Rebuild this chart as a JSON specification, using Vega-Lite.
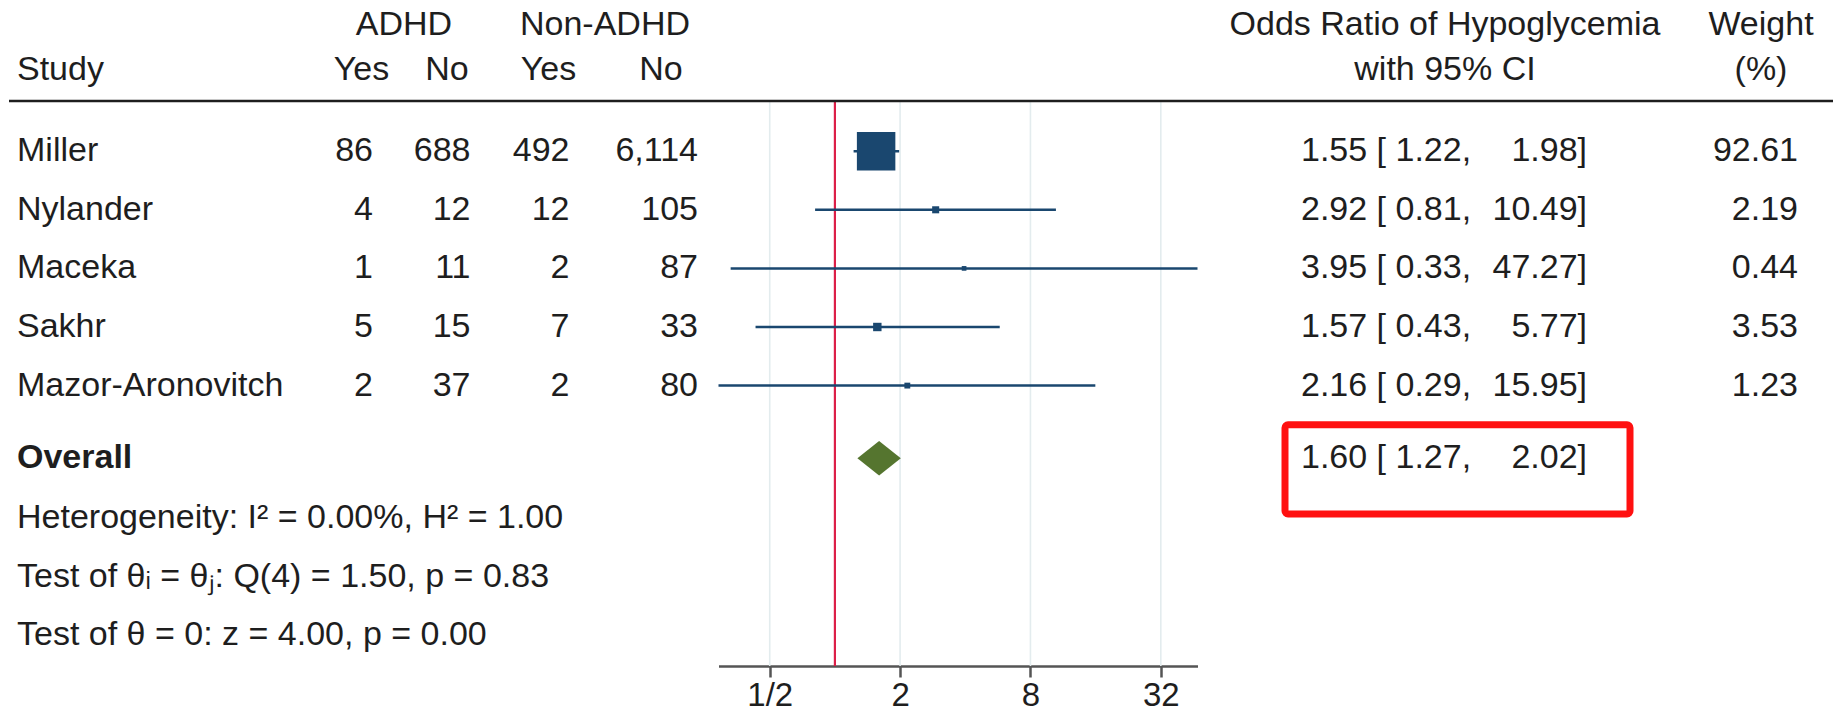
{
  "$schema": "https://vega.github.io/schema/vega-lite/v6.json",
  "width": 1837,
  "height": 666,
  "autosize": "none",
  "padding": {"left": 0, "top": 0, "right": 0, "bottom": 48},
  "background": "#ffffff",
  "config": {
    "view": {"stroke": null},
    "text": {"font": "Liberation Sans", "fontSize": 34, "color": "#1e1e1e", "baseline": "middle"},
    "axisX": {
      "title": null, "grid": false,
      "domainColor": "#555555", "domainWidth": 2.5,
      "tickColor": "#555555", "tickWidth": 2.5, "tickSize": 11,
      "labelFont": "Liberation Sans", "labelFontSize": 33, "labelColor": "#1e1e1e",
      "labelPadding": 2, "labelFlush": false, "labelOverlap": false
    }
  },
  "datasets": {
    "studies": [
      {"row": 1, "kind": "study", "study": "Miller", "ay": 86, "an": 688, "ny": 492, "nn": 6114, "est": 1.55, "lo": 1.22, "hi": 1.98, "w": 92.61},
      {"row": 2, "kind": "study", "study": "Nylander", "ay": 4, "an": 12, "ny": 12, "nn": 105, "est": 2.92, "lo": 0.81, "hi": 10.49, "w": 2.19},
      {"row": 3, "kind": "study", "study": "Maceka", "ay": 1, "an": 11, "ny": 2, "nn": 87, "est": 3.95, "lo": 0.33, "hi": 47.27, "w": 0.44},
      {"row": 4, "kind": "study", "study": "Sakhr", "ay": 5, "an": 15, "ny": 7, "nn": 33, "est": 1.57, "lo": 0.43, "hi": 5.77, "w": 3.53},
      {"row": 5, "kind": "study", "study": "Mazor-Aronovitch", "ay": 2, "an": 37, "ny": 2, "nn": 80, "est": 2.16, "lo": 0.29, "hi": 15.95, "w": 1.23},
      {"row": 6.24, "kind": "overall", "study": "Overall", "est": 1.60, "lo": 1.27, "hi": 2.02}
    ],
    "notes": [
      {"row": 7.26, "text": "Heterogeneity: I² = 0.00%, H² = 1.00"},
      {"row": 8.26, "text": "Test of θᵢ = θⱼ: Q(4) = 1.50, p = 0.83"},
      {"row": 9.26, "text": "Test of θ = 0: z = 4.00, p = 0.00"}
    ],
    "grid": [{"t": 0.5}, {"t": 2}, {"t": 8}, {"t": 32}],
    "ref": [{"t": 1}]
  },
  "resolve": {"scale": {"x": "independent"}, "axis": {"x": "independent"}},
  "layer": [
    {
      "layer": [
        {
          "data": {"name": "grid"},
          "mark": {"type": "rule", "color": "#e3ecee", "strokeWidth": 1.6},
          "encoding": {
            "x": {"field": "t", "type": "quantitative", "scale": {"type": "log", "base": 2, "domain": [0.29, 47.27], "range": [718.5, 1197.5], "nice": false},
              "axis": {"values": [0.5, 2, 8, 32], "labelExpr": "datum.value < 1 ? '1/' + round(1 / datum.value) : '' + round(datum.value)"}},
            "y": {"datum": 0.16, "type": "quantitative", "scale": {"type": "linear", "domain": [-1.58, 9.785], "reverse": true, "nice": false, "zero": false}, "axis": null},
            "y2": {"datum": 9.785}
          }
        },
        {
          "data": {"name": "ref"},
          "mark": {"type": "rule", "color": "#dc1f48", "strokeWidth": 2.2},
          "encoding": {
            "x": {"field": "t", "type": "quantitative", "scale": {"type": "log", "base": 2, "domain": [0.29, 47.27], "range": [718.5, 1197.5], "nice": false},
              "axis": {"values": [0.5, 2, 8, 32], "labelExpr": "datum.value < 1 ? '1/' + round(1 / datum.value) : '' + round(datum.value)"}},
            "y": {"datum": 0.16, "type": "quantitative", "scale": {"type": "linear", "domain": [-1.58, 9.785], "reverse": true, "nice": false, "zero": false}, "axis": null},
            "y2": {"datum": 9.785}
          }
        },
        {
          "data": {"name": "studies"},
          "transform": [{"filter": "datum.kind == 'study'"}],
          "mark": {"type": "rule", "color": "#1a476f", "strokeWidth": 2.5},
          "encoding": {
            "x": {"field": "lo", "type": "quantitative", "scale": {"type": "log", "base": 2, "domain": [0.29, 47.27], "range": [718.5, 1197.5], "nice": false},
              "axis": {"values": [0.5, 2, 8, 32], "labelExpr": "datum.value < 1 ? '1/' + round(1 / datum.value) : '' + round(datum.value)"}},
            "x2": {"field": "hi"},
            "y": {"field": "row", "type": "quantitative", "scale": {"type": "linear", "domain": [-1.58, 9.785], "reverse": true, "nice": false, "zero": false}, "axis": null}
          }
        },
        {
          "data": {"name": "studies"},
          "transform": [{"filter": "datum.kind == 'study'"}],
          "mark": {"type": "point", "shape": "square", "filled": true, "color": "#1a476f", "opacity": 1},
          "encoding": {
            "x": {"field": "est", "type": "quantitative", "scale": {"type": "log", "base": 2, "domain": [0.29, 47.27], "range": [718.5, 1197.5], "nice": false},
              "axis": {"values": [0.5, 2, 8, 32], "labelExpr": "datum.value < 1 ? '1/' + round(1 / datum.value) : '' + round(datum.value)"}},
            "y": {"field": "row", "type": "quantitative", "scale": {"type": "linear", "domain": [-1.58, 9.785], "reverse": true, "nice": false, "zero": false}, "axis": null},
            "size": {"field": "w", "type": "quantitative", "scale": {"domain": [0, 92.61], "range": [15, 1480]}, "legend": null}
          }
        },
        {
          "data": {"name": "studies"},
          "transform": [{"filter": "datum.kind == 'overall'"}],
          "mark": {"type": "point", "shape": "M -1 0 L 0 -0.79 L 1 0 L 0 0.79 Z", "filled": true, "color": "#55752f", "size": 1884, "opacity": 1},
          "encoding": {
            "x": {"field": "est", "type": "quantitative", "scale": {"type": "log", "base": 2, "domain": [0.29, 47.27], "range": [718.5, 1197.5], "nice": false},
              "axis": {"values": [0.5, 2, 8, 32], "labelExpr": "datum.value < 1 ? '1/' + round(1 / datum.value) : '' + round(datum.value)"}},
            "y": {"field": "row", "type": "quantitative", "scale": {"type": "linear", "domain": [-1.58, 9.785], "reverse": true, "nice": false, "zero": false}, "axis": null}
          }
        }
      ]
    },
    {
      "layer": [
        {
          "data": {"values": [{}]},
          "mark": {"type": "rule", "color": "#1e1e1e", "strokeWidth": 2.5},
          "encoding": {
            "x": {"datum": 0, "type": "quantitative", "scale": {"type": "linear", "domain": [0,1,2,3,4,5,6,7,8,9,10,11,12,13,14,15,16,17,18,19], "range": [9,17,361.5,373,404,447,470.5,548.5,569.5,605,661,698,1285,1301,1445,1587,1630,1761,1798,1833], "nice": false, "zero": false}, "axis": null},
            "x2": {"datum": 19},
            "y": {"datum": 0.143, "type": "quantitative", "scale": {"type": "linear", "domain": [-1.58, 9.785], "reverse": true, "nice": false, "zero": false}, "axis": null}
          }
        },
        {
          "data": {"values": [{}]},
          "mark": {"type": "rect", "filled": false, "color": "#ff1010", "strokeWidth": 7, "cornerRadius": 3},
          "encoding": {
            "x": {"datum": 12, "type": "quantitative", "scale": {"type": "linear", "domain": [0,1,2,3,4,5,6,7,8,9,10,11,12,13,14,15,16,17,18,19], "range": [9,17,361.5,373,404,447,470.5,548.5,569.5,605,661,698,1285,1301,1445,1587,1630,1761,1798,1833], "nice": false, "zero": false}, "axis": null},
            "x2": {"datum": 16},
            "y": {"datum": 5.67, "type": "quantitative", "scale": {"type": "linear", "domain": [-1.58, 9.785], "reverse": true, "nice": false, "zero": false}, "axis": null},
            "y2": {"datum": 7.19}
          }
        },
        {
          "data": {"name": "studies"},
          "transform": [{"filter": "datum.kind == 'study'"}],
          "mark": {"type": "text", "align": "left"},
          "encoding": {
            "x": {"datum": 1, "type": "quantitative", "scale": {"type": "linear", "domain": [0,1,2,3,4,5,6,7,8,9,10,11,12,13,14,15,16,17,18,19], "range": [9,17,361.5,373,404,447,470.5,548.5,569.5,605,661,698,1285,1301,1445,1587,1630,1761,1798,1833], "nice": false, "zero": false}, "axis": null},
            "y": {"field": "row", "type": "quantitative", "scale": {"type": "linear", "domain": [-1.58, 9.785], "reverse": true, "nice": false, "zero": false}, "axis": null},
            "text": {"field": "study"}
          }
        },
        {
          "data": {"name": "studies"},
          "transform": [{"filter": "datum.kind == 'overall'"}],
          "mark": {"type": "text", "align": "left", "fontWeight": "bold"},
          "encoding": {
            "x": {"datum": 1, "type": "quantitative", "scale": {"type": "linear", "domain": [0,1,2,3,4,5,6,7,8,9,10,11,12,13,14,15,16,17,18,19], "range": [9,17,361.5,373,404,447,470.5,548.5,569.5,605,661,698,1285,1301,1445,1587,1630,1761,1798,1833], "nice": false, "zero": false}, "axis": null},
            "y": {"field": "row", "type": "quantitative", "scale": {"type": "linear", "domain": [-1.58, 9.785], "reverse": true, "nice": false, "zero": false}, "axis": null},
            "text": {"field": "study"}
          }
        },
        {
          "data": {"name": "notes"},
          "mark": {"type": "text", "align": "left"},
          "encoding": {
            "x": {"datum": 1, "type": "quantitative", "scale": {"type": "linear", "domain": [0,1,2,3,4,5,6,7,8,9,10,11,12,13,14,15,16,17,18,19], "range": [9,17,361.5,373,404,447,470.5,548.5,569.5,605,661,698,1285,1301,1445,1587,1630,1761,1798,1833], "nice": false, "zero": false}, "axis": null},
            "y": {"field": "row", "type": "quantitative", "scale": {"type": "linear", "domain": [-1.58, 9.785], "reverse": true, "nice": false, "zero": false}, "axis": null},
            "text": {"field": "text"}
          }
        },
        {
          "data": {"name": "studies"},
          "transform": [{"filter": "datum.kind == 'study'"}],
          "mark": {"type": "text", "align": "right"},
          "encoding": {
            "x": {"datum": 3, "type": "quantitative", "scale": {"type": "linear", "domain": [0,1,2,3,4,5,6,7,8,9,10,11,12,13,14,15,16,17,18,19], "range": [9,17,361.5,373,404,447,470.5,548.5,569.5,605,661,698,1285,1301,1445,1587,1630,1761,1798,1833], "nice": false, "zero": false}, "axis": null},
            "y": {"field": "row", "type": "quantitative", "scale": {"type": "linear", "domain": [-1.58, 9.785], "reverse": true, "nice": false, "zero": false}, "axis": null},
            "text": {"field": "ay", "type": "quantitative", "format": ","}
          }
        },
        {
          "data": {"name": "studies"},
          "transform": [{"filter": "datum.kind == 'study'"}],
          "mark": {"type": "text", "align": "right"},
          "encoding": {
            "x": {"datum": 6, "type": "quantitative", "scale": {"type": "linear", "domain": [0,1,2,3,4,5,6,7,8,9,10,11,12,13,14,15,16,17,18,19], "range": [9,17,361.5,373,404,447,470.5,548.5,569.5,605,661,698,1285,1301,1445,1587,1630,1761,1798,1833], "nice": false, "zero": false}, "axis": null},
            "y": {"field": "row", "type": "quantitative", "scale": {"type": "linear", "domain": [-1.58, 9.785], "reverse": true, "nice": false, "zero": false}, "axis": null},
            "text": {"field": "an", "type": "quantitative", "format": ","}
          }
        },
        {
          "data": {"name": "studies"},
          "transform": [{"filter": "datum.kind == 'study'"}],
          "mark": {"type": "text", "align": "right"},
          "encoding": {
            "x": {"datum": 8, "type": "quantitative", "scale": {"type": "linear", "domain": [0,1,2,3,4,5,6,7,8,9,10,11,12,13,14,15,16,17,18,19], "range": [9,17,361.5,373,404,447,470.5,548.5,569.5,605,661,698,1285,1301,1445,1587,1630,1761,1798,1833], "nice": false, "zero": false}, "axis": null},
            "y": {"field": "row", "type": "quantitative", "scale": {"type": "linear", "domain": [-1.58, 9.785], "reverse": true, "nice": false, "zero": false}, "axis": null},
            "text": {"field": "ny", "type": "quantitative", "format": ","}
          }
        },
        {
          "data": {"name": "studies"},
          "transform": [{"filter": "datum.kind == 'study'"}],
          "mark": {"type": "text", "align": "right"},
          "encoding": {
            "x": {"datum": 11, "type": "quantitative", "scale": {"type": "linear", "domain": [0,1,2,3,4,5,6,7,8,9,10,11,12,13,14,15,16,17,18,19], "range": [9,17,361.5,373,404,447,470.5,548.5,569.5,605,661,698,1285,1301,1445,1587,1630,1761,1798,1833], "nice": false, "zero": false}, "axis": null},
            "y": {"field": "row", "type": "quantitative", "scale": {"type": "linear", "domain": [-1.58, 9.785], "reverse": true, "nice": false, "zero": false}, "axis": null},
            "text": {"field": "nn", "type": "quantitative", "format": ","}
          }
        },
        {
          "data": {"name": "studies"},
          "transform": [{"calculate": "format(datum.est, '.2f') + ' [ ' + format(datum.lo, '.2f') + ','", "as": "ci_a"}],
          "mark": {"type": "text", "align": "left"},
          "encoding": {
            "x": {"datum": 13, "type": "quantitative", "scale": {"type": "linear", "domain": [0,1,2,3,4,5,6,7,8,9,10,11,12,13,14,15,16,17,18,19], "range": [9,17,361.5,373,404,447,470.5,548.5,569.5,605,661,698,1285,1301,1445,1587,1630,1761,1798,1833], "nice": false, "zero": false}, "axis": null},
            "y": {"field": "row", "type": "quantitative", "scale": {"type": "linear", "domain": [-1.58, 9.785], "reverse": true, "nice": false, "zero": false}, "axis": null},
            "text": {"field": "ci_a"}
          }
        },
        {
          "data": {"name": "studies"},
          "transform": [{"calculate": "format(datum.hi, '.2f') + ']'", "as": "ci_b"}],
          "mark": {"type": "text", "align": "right"},
          "encoding": {
            "x": {"datum": 15, "type": "quantitative", "scale": {"type": "linear", "domain": [0,1,2,3,4,5,6,7,8,9,10,11,12,13,14,15,16,17,18,19], "range": [9,17,361.5,373,404,447,470.5,548.5,569.5,605,661,698,1285,1301,1445,1587,1630,1761,1798,1833], "nice": false, "zero": false}, "axis": null},
            "y": {"field": "row", "type": "quantitative", "scale": {"type": "linear", "domain": [-1.58, 9.785], "reverse": true, "nice": false, "zero": false}, "axis": null},
            "text": {"field": "ci_b"}
          }
        },
        {
          "data": {"name": "studies"},
          "transform": [{"filter": "datum.kind == 'study'"}],
          "mark": {"type": "text", "align": "right"},
          "encoding": {
            "x": {"datum": 18, "type": "quantitative", "scale": {"type": "linear", "domain": [0,1,2,3,4,5,6,7,8,9,10,11,12,13,14,15,16,17,18,19], "range": [9,17,361.5,373,404,447,470.5,548.5,569.5,605,661,698,1285,1301,1445,1587,1630,1761,1798,1833], "nice": false, "zero": false}, "axis": null},
            "y": {"field": "row", "type": "quantitative", "scale": {"type": "linear", "domain": [-1.58, 9.785], "reverse": true, "nice": false, "zero": false}, "axis": null},
            "text": {"field": "w", "type": "quantitative", "format": ".2f"}
          }
        },
        {
          "data": {"values": [{}]},
          "mark": {"type": "text", "align": "left"},
          "encoding": {
            "x": {"datum": 1, "type": "quantitative", "scale": {"type": "linear", "domain": [0,1,2,3,4,5,6,7,8,9,10,11,12,13,14,15,16,17,18,19], "range": [9,17,361.5,373,404,447,470.5,548.5,569.5,605,661,698,1285,1301,1445,1587,1630,1761,1798,1833], "nice": false, "zero": false}, "axis": null},
            "y": {"datum": -0.377, "type": "quantitative", "scale": {"type": "linear", "domain": [-1.58, 9.785], "reverse": true, "nice": false, "zero": false}, "axis": null},
            "text": {"value": "Study"}
          }
        },
        {
          "data": {"values": [{}]},
          "mark": {"type": "text", "align": "center"},
          "encoding": {
            "x": {"datum": 4, "type": "quantitative", "scale": {"type": "linear", "domain": [0,1,2,3,4,5,6,7,8,9,10,11,12,13,14,15,16,17,18,19], "range": [9,17,361.5,373,404,447,470.5,548.5,569.5,605,661,698,1285,1301,1445,1587,1630,1761,1798,1833], "nice": false, "zero": false}, "axis": null},
            "y": {"datum": -1.16, "type": "quantitative", "scale": {"type": "linear", "domain": [-1.58, 9.785], "reverse": true, "nice": false, "zero": false}, "axis": null},
            "text": {"value": "ADHD"}
          }
        },
        {
          "data": {"values": [{}]},
          "mark": {"type": "text", "align": "center"},
          "encoding": {
            "x": {"datum": 9, "type": "quantitative", "scale": {"type": "linear", "domain": [0,1,2,3,4,5,6,7,8,9,10,11,12,13,14,15,16,17,18,19], "range": [9,17,361.5,373,404,447,470.5,548.5,569.5,605,661,698,1285,1301,1445,1587,1630,1761,1798,1833], "nice": false, "zero": false}, "axis": null},
            "y": {"datum": -1.16, "type": "quantitative", "scale": {"type": "linear", "domain": [-1.58, 9.785], "reverse": true, "nice": false, "zero": false}, "axis": null},
            "text": {"value": "Non-ADHD"}
          }
        },
        {
          "data": {"values": [{}]},
          "mark": {"type": "text", "align": "center"},
          "encoding": {
            "x": {"datum": 2, "type": "quantitative", "scale": {"type": "linear", "domain": [0,1,2,3,4,5,6,7,8,9,10,11,12,13,14,15,16,17,18,19], "range": [9,17,361.5,373,404,447,470.5,548.5,569.5,605,661,698,1285,1301,1445,1587,1630,1761,1798,1833], "nice": false, "zero": false}, "axis": null},
            "y": {"datum": -0.377, "type": "quantitative", "scale": {"type": "linear", "domain": [-1.58, 9.785], "reverse": true, "nice": false, "zero": false}, "axis": null},
            "text": {"value": "Yes"}
          }
        },
        {
          "data": {"values": [{}]},
          "mark": {"type": "text", "align": "center"},
          "encoding": {
            "x": {"datum": 5, "type": "quantitative", "scale": {"type": "linear", "domain": [0,1,2,3,4,5,6,7,8,9,10,11,12,13,14,15,16,17,18,19], "range": [9,17,361.5,373,404,447,470.5,548.5,569.5,605,661,698,1285,1301,1445,1587,1630,1761,1798,1833], "nice": false, "zero": false}, "axis": null},
            "y": {"datum": -0.377, "type": "quantitative", "scale": {"type": "linear", "domain": [-1.58, 9.785], "reverse": true, "nice": false, "zero": false}, "axis": null},
            "text": {"value": "No"}
          }
        },
        {
          "data": {"values": [{}]},
          "mark": {"type": "text", "align": "center"},
          "encoding": {
            "x": {"datum": 7, "type": "quantitative", "scale": {"type": "linear", "domain": [0,1,2,3,4,5,6,7,8,9,10,11,12,13,14,15,16,17,18,19], "range": [9,17,361.5,373,404,447,470.5,548.5,569.5,605,661,698,1285,1301,1445,1587,1630,1761,1798,1833], "nice": false, "zero": false}, "axis": null},
            "y": {"datum": -0.377, "type": "quantitative", "scale": {"type": "linear", "domain": [-1.58, 9.785], "reverse": true, "nice": false, "zero": false}, "axis": null},
            "text": {"value": "Yes"}
          }
        },
        {
          "data": {"values": [{}]},
          "mark": {"type": "text", "align": "center"},
          "encoding": {
            "x": {"datum": 10, "type": "quantitative", "scale": {"type": "linear", "domain": [0,1,2,3,4,5,6,7,8,9,10,11,12,13,14,15,16,17,18,19], "range": [9,17,361.5,373,404,447,470.5,548.5,569.5,605,661,698,1285,1301,1445,1587,1630,1761,1798,1833], "nice": false, "zero": false}, "axis": null},
            "y": {"datum": -0.377, "type": "quantitative", "scale": {"type": "linear", "domain": [-1.58, 9.785], "reverse": true, "nice": false, "zero": false}, "axis": null},
            "text": {"value": "No"}
          }
        },
        {
          "data": {"values": [{}]},
          "mark": {"type": "text", "align": "center"},
          "encoding": {
            "x": {"datum": 14, "type": "quantitative", "scale": {"type": "linear", "domain": [0,1,2,3,4,5,6,7,8,9,10,11,12,13,14,15,16,17,18,19], "range": [9,17,361.5,373,404,447,470.5,548.5,569.5,605,661,698,1285,1301,1445,1587,1630,1761,1798,1833], "nice": false, "zero": false}, "axis": null},
            "y": {"datum": -1.16, "type": "quantitative", "scale": {"type": "linear", "domain": [-1.58, 9.785], "reverse": true, "nice": false, "zero": false}, "axis": null},
            "text": {"value": "Odds Ratio of Hypoglycemia"}
          }
        },
        {
          "data": {"values": [{}]},
          "mark": {"type": "text", "align": "center"},
          "encoding": {
            "x": {"datum": 14, "type": "quantitative", "scale": {"type": "linear", "domain": [0,1,2,3,4,5,6,7,8,9,10,11,12,13,14,15,16,17,18,19], "range": [9,17,361.5,373,404,447,470.5,548.5,569.5,605,661,698,1285,1301,1445,1587,1630,1761,1798,1833], "nice": false, "zero": false}, "axis": null},
            "y": {"datum": -0.377, "type": "quantitative", "scale": {"type": "linear", "domain": [-1.58, 9.785], "reverse": true, "nice": false, "zero": false}, "axis": null},
            "text": {"value": "with 95% CI"}
          }
        },
        {
          "data": {"values": [{}]},
          "mark": {"type": "text", "align": "center"},
          "encoding": {
            "x": {"datum": 17, "type": "quantitative", "scale": {"type": "linear", "domain": [0,1,2,3,4,5,6,7,8,9,10,11,12,13,14,15,16,17,18,19], "range": [9,17,361.5,373,404,447,470.5,548.5,569.5,605,661,698,1285,1301,1445,1587,1630,1761,1798,1833], "nice": false, "zero": false}, "axis": null},
            "y": {"datum": -1.16, "type": "quantitative", "scale": {"type": "linear", "domain": [-1.58, 9.785], "reverse": true, "nice": false, "zero": false}, "axis": null},
            "text": {"value": "Weight"}
          }
        },
        {
          "data": {"values": [{}]},
          "mark": {"type": "text", "align": "center"},
          "encoding": {
            "x": {"datum": 17, "type": "quantitative", "scale": {"type": "linear", "domain": [0,1,2,3,4,5,6,7,8,9,10,11,12,13,14,15,16,17,18,19], "range": [9,17,361.5,373,404,447,470.5,548.5,569.5,605,661,698,1285,1301,1445,1587,1630,1761,1798,1833], "nice": false, "zero": false}, "axis": null},
            "y": {"datum": -0.377, "type": "quantitative", "scale": {"type": "linear", "domain": [-1.58, 9.785], "reverse": true, "nice": false, "zero": false}, "axis": null},
            "text": {"value": "(%)"}
          }
        }
      ]
    }
  ]
}
